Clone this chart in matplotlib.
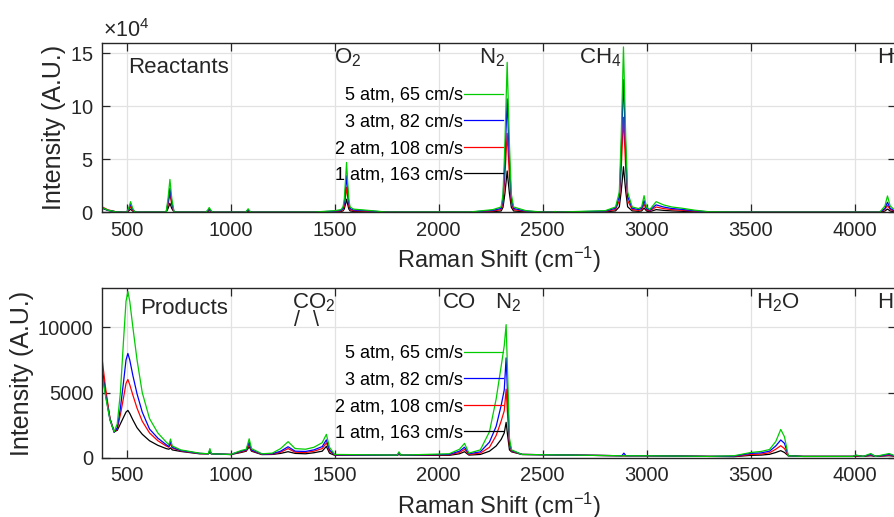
import matplotlib
matplotlib.use("Agg")
import matplotlib.pyplot as plt

plt.rcParams['font.family'] = ['Liberation Sans', 'DejaVu Sans']
plt.rcParams['mathtext.default'] = 'regular'

# series labels and colours (legend order, top to bottom)
labels = ["5 atm, 65 cm/s", "3 atm, 82 cm/s", "2 atm, 108 cm/s", "1 atm, 163 cm/s"]
colors = ["#00cc00", "#0000ff", "#ff0000", "#000000"]

# Reactants spectrum
shift_react = [380, 410, 450, 480, 500, 510, 519, 528, 540,
               690, 699, 708, 717, 728,
               880, 889, 897, 905, 914,
               1070, 1077, 1084, 1091, 1100,
               1400, 1500, 1530, 1540, 1546, 1552, 1557, 1562, 1568, 1574, 1590, 1650, 1750,
               2150, 2260, 2300, 2309, 2318, 2324, 2329, 2334, 2340, 2349, 2360, 2420, 2500,
               2550, 2560, 2570,
               2800, 2850, 2868, 2877, 2883, 2888, 2893, 2899, 2908, 2930, 2960,
               2975, 2981, 2987, 2993, 3000, 3015, 3045, 3080, 3120, 3170, 3230, 3300, 3500,
               4120, 4145, 4151, 4157, 4163, 4170, 4200]
react_5atm = [4800, 2000, 400, 100, 100, 4000, 10000, 4000, 150,
              200, 13000, 31000, 13000, 200,
              100, 1800, 4500, 1800, 100,
              100, 1300, 3300, 1300, 100,
              200, 1500, 2500, 5000, 12000, 30000, 47000, 30000, 12000, 5000, 3000, 2000, 200,
              300, 2500, 5000, 17000, 64000, 106000, 141500, 106000, 64000, 17000, 5000, 1500, 200,
              200, 800, 200,
              1500, 5000, 19000, 70000, 117000, 156000, 117000, 70000, 19000, 5000, 3500,
              5000, 10000, 15700, 10000, 4500, 2700, 10000, 7000, 5000, 3800, 2000, 500, 100,
              100, 6000, 11000, 15400, 11000, 6000, 500]
react_3atm = [4500, 1900, 400, 100, 100, 3200, 8000, 3200, 120,
              150, 9500, 22600, 9500, 150,
              100, 1300, 3200, 1300, 100,
              100, 1000, 2500, 1000, 100,
              150, 1100, 1800, 3600, 8800, 22000, 34500, 22000, 8800, 3600, 2200, 1500, 150,
              200, 1800, 3600, 13000, 48000, 80000, 107000, 80000, 48000, 13000, 3600, 1100, 150,
              150, 600, 150,
              1100, 3800, 15000, 56000, 94000, 125000, 94000, 56000, 15000, 3800, 2600,
              3600, 7000, 11000, 7000, 3300, 1900, 7000, 5000, 3600, 2700, 1400, 350, 100,
              100, 3700, 6800, 9500, 6800, 3700, 350]
react_2atm = [5300, 2300, 450, 100, 100, 2200, 5500, 2200, 100,
              120, 7200, 17000, 7200, 120,
              100, 1000, 2500, 1000, 100,
              100, 700, 1800, 700, 100,
              100, 800, 1300, 2500, 6000, 15000, 23600, 15000, 6000, 2500, 1500, 1000, 100,
              150, 1200, 2500, 9000, 33500, 56000, 74500, 56000, 33500, 9000, 2500, 800, 100,
              100, 400, 100,
              800, 2600, 11000, 40000, 67000, 89600, 67000, 40000, 11000, 2600, 1800,
              2400, 4800, 7500, 4800, 2200, 1300, 5000, 3500, 2500, 1900, 1000, 250, 100,
              100, 2600, 4700, 6500, 4700, 2600, 250]
react_1atm = [4000, 1700, 300, 80, 80, 1200, 3000, 1200, 60,
              80, 3600, 8500, 3600, 80,
              80, 600, 1500, 600, 80,
              80, 400, 1000, 400, 80,
              80, 400, 700, 1300, 3100, 7800, 12300, 7800, 3100, 1300, 800, 500, 80,
              100, 600, 1200, 4700, 17500, 29000, 39000, 29000, 17500, 4700, 1200, 400, 60,
              60, 200, 60,
              400, 1300, 5200, 19500, 32000, 43000, 32000, 19500, 5200, 1300, 900,
              1200, 2600, 4000, 2600, 1100, 600, 2500, 1800, 1300, 900, 500, 120, 60,
              60, 1200, 2200, 3000, 2200, 1200, 120]

# Products spectrum
shift_prod = [380, 400, 420, 440, 455, 470, 485, 497, 506, 515, 530, 550, 575, 610, 650,
              690, 703, 711, 719, 760, 850, 893, 900, 907, 1000, 1050, 1075, 1089, 1100,
              1150, 1200, 1240, 1276, 1310, 1360, 1400, 1440, 1460, 1475, 1500, 1800,
              1809, 1818, 2050, 2100, 2124, 2145, 2200, 2244, 2276, 2300, 2315, 2324,
              2332, 2340, 2350, 2400, 2880, 2890, 2900, 3000, 3300, 3420, 3500, 3550,
              3590, 3620, 3644, 3662, 3680, 3750, 3990, 4005, 4040, 4077, 4100, 4165, 4200]
prod_5atm = [6600, 4600, 2900, 1990, 2600, 5000, 9000, 12000, 12750, 12000, 10000, 7500, 5000,
             3000, 1900, 1200, 1000, 1430, 900, 600, 350, 300, 700, 300, 250, 550, 650, 1450,
             700, 300, 350, 700, 1230, 700, 650, 800, 1150, 1790, 800, 250, 200, 450, 200,
             300, 650, 1100, 350, 600, 2000, 4500, 7000, 8600, 10210, 6000, 1500, 600, 250,
             150, 150, 150, 150, 100, 150, 400, 480, 630, 1240, 2170, 1600, 150, 100, 100,
             200, 100, 320, 100, 320, 100]
prod_3atm = [6800, 4700, 2900, 1950, 2300, 3800, 5800, 7500, 8000, 7500, 6300, 4900, 3500,
             2200, 1500, 1000, 850, 1250, 800, 550, 330, 300, 600, 300, 250, 500, 600, 1200,
             600, 280, 300, 500, 840, 500, 480, 600, 850, 1370, 600, 220, 200, 350, 200,
             250, 500, 800, 300, 450, 1200, 2400, 4000, 5200, 7660, 4500, 1200, 550, 250,
             150, 350, 150, 150, 100, 120, 330, 370, 500, 900, 1360, 1100, 150, 100, 100,
             180, 100, 250, 100, 250, 100]
prod_2atm = [7860, 5200, 3000, 1950, 2200, 3300, 4600, 5700, 6000, 5600, 4800, 3800, 2800,
             1900, 1300, 900, 800, 1070, 750, 520, 320, 300, 500, 300, 250, 450, 550, 1000,
             550, 260, 280, 420, 700, 420, 400, 500, 700, 1140, 500, 200, 200, 300, 200,
             220, 400, 640, 250, 350, 800, 1700, 2800, 3600, 5260, 3000, 900, 500, 250,
             150, 150, 150, 150, 100, 100, 250, 280, 380, 650, 920, 700, 150, 100, 100,
             150, 100, 200, 100, 200, 100]
prod_1atm = [7100, 4900, 3000, 2000, 2100, 2600, 3100, 3500, 3630, 3400, 2900, 2300, 1800,
             1300, 950, 700, 650, 750, 600, 480, 300, 300, 400, 300, 240, 400, 500, 840,
             500, 240, 250, 330, 460, 330, 300, 380, 500, 870, 350, 180, 180, 250, 180,
             180, 300, 460, 200, 250, 500, 900, 1400, 1900, 2710, 1600, 600, 450, 250,
             150, 150, 150, 150, 100, 80, 180, 200, 260, 400, 540, 400, 150, 100, 100,
             120, 100, 150, 100, 150, 100]

react_series = [react_5atm, react_3atm, react_2atm, react_1atm]
prod_series = [prod_5atm, prod_3atm, prod_2atm, prod_1atm]

fig = plt.figure(figsize=(8.95, 5.17), dpi=100)
ax1 = fig.add_axes([0.1136, 0.5894, 0.888, 0.328])
ax2 = fig.add_axes([0.1136, 0.1147, 0.888, 0.3277])

axcol = '#262626'
for ax, shift, series in [(ax1, shift_react, react_series), (ax2, shift_prod, prod_series)]:
    # draw 1 atm first so 5 atm ends up on top
    for lab, col, y in reversed(list(zip(labels, colors, series))):
        ax.plot(shift, y, color=col, lw=0.9, label=lab)
    ax.set_xlim(380, 4200)
    ax.set_xticks([500, 1000, 1500, 2000, 2500, 3000, 3500, 4000])
    ax.grid(True, color='#e2e2e2', lw=0.9)
    ax.set_axisbelow(True)
    ax.tick_params(direction='in', length=6, width=0.9, top=True, right=True,
                   labelsize=14.5, colors=axcol, pad=6)
    for sp in ax.spines.values():
        sp.set_color(axcol)
        sp.set_linewidth(1.0)
    ax.set_xlabel("Raman Shift (cm$^{-1}$)", fontsize=17, color=axcol, labelpad=4)
    ax.set_ylabel("Intensity (A.U.)", fontsize=18, color=axcol, labelpad=3)

ax1.set_ylim(0, 160000)
ax1.set_yticks([0, 50000, 100000, 150000])
ax1.ticklabel_format(axis='y', style='sci', scilimits=(4, 4), useMathText=True)
ax1.yaxis.get_offset_text().set_visible(False)
fig.text(0.1156, 1 - 37 / 517, r"$\times$10$^4$", fontsize=15.5, color=axcol,
         ha='left', va='baseline')

ax2.set_ylim(0, 13000)
ax2.set_yticks([0, 5000, 10000])

leg_kw = dict(loc='upper right', frameon=False, markerfirst=False, fontsize=13,
              handlelength=2.15, handletextpad=0.05, labelspacing=0.53, borderpad=0,
              borderaxespad=0, bbox_transform=fig.transFigure)
h1, l1 = ax1.get_legend_handles_labels()
ax1.legend(h1[::-1], l1[::-1], bbox_to_anchor=(503 / 895, 1 - 87 / 517), **leg_kw)
h2, l2 = ax2.get_legend_handles_labels()
ax2.legend(h2[::-1], l2[::-1], bbox_to_anchor=(503 / 895, 1 - 345 / 517), **leg_kw)

tk = dict(fontsize=16, color=axcol, va='baseline', ha='left')
t1 = ax1.get_xaxis_transform()
ax1.text(505, 0.82, "Reactants", transform=t1, **tk)
ax1.text(1499, 0.878, "O$_2$", transform=t1, **tk)
ax1.text(2195, 0.878, "N$_2$", transform=t1, **tk)
ax1.text(2675, 0.878, "CH$_4$", transform=t1, **tk)
ax1.text(4106, 0.878, "H$_2$", transform=t1, **tk)

t2 = ax2.get_xaxis_transform()
ax2.text(564, 0.846, "Products", transform=t2, **tk)
ax2.text(1294, 0.882, "CO$_2$", transform=t2, **tk)
sl = dict(tk, fontsize=15.5)
ax2.text(1305, 0.775, "/", transform=t2, **sl)
ax2.text(1395, 0.775, "\\", transform=t2, **sl)
ax2.text(2019, 0.882, "CO", transform=t2, **tk)
ax2.text(2272, 0.882, "N$_2$", transform=t2, **tk)
ax2.text(3527, 0.882, "H$_2$O", transform=t2, **tk)
ax2.text(4106, 0.882, "H$_2$", transform=t2, **tk)

fig.savefig("out.png", dpi=100)
